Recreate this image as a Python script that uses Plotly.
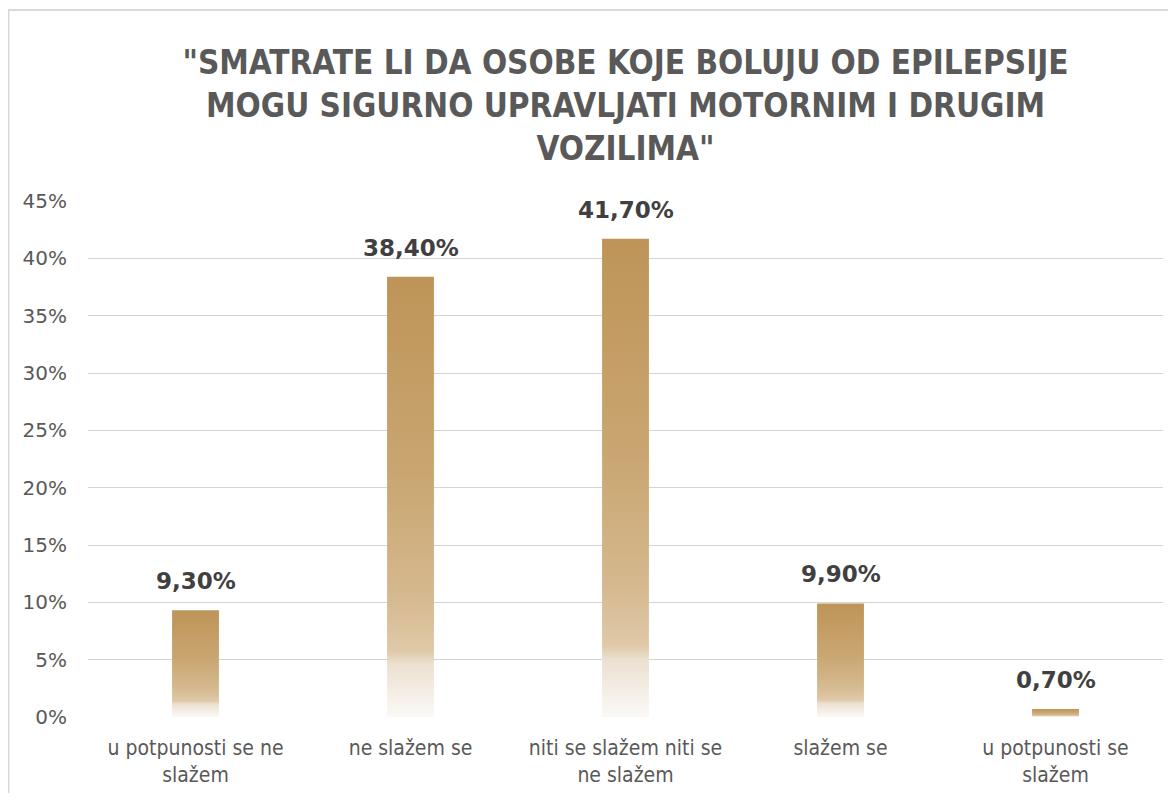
import plotly.graph_objects as go

# ---- data ----
categories = [
    "u potpunosti se ne<br>slažem",
    "ne slažem se",
    "niti se slažem niti se<br>ne slažem",
    "slažem se",
    "u potpunosti se<br>slažem",
]
values = [9.3, 38.4, 41.7, 9.9, 0.7]  # percent
y_ticks = [0, 5, 10, 15, 20, 25, 30, 35, 40, 45]
y_tick_labels = [f"{t}%" for t in y_ticks]

title_text = ('"SMATRATE LI DA OSOBE KOJE BOLUJU OD EPILEPSIJE<br>'
              'MOGU SIGURNO UPRAVLJATI MOTORNIM I DRUGIM<br>'
              'VOZILIMA"')

# ---- style / geometry ----
W, H = 1160, 785
ML, MR, MT, MB = 80, 5, 193, 76
PW, PH = W - ML - MR, H - MT - MB
half_w = 0.109
grad = [
    [0.0, "#fbf9f6"],
    [0.05, "#f5efe7"],
    [0.12, "#ece0d0"],
    [0.15, "#dfc9a8"],
    [0.28, "#d5b88e"],
    [0.55, "#c9a671"],
    [1.0, "#be9458"],
]
COND = "DejaVu Sans Condensed, DejaVu Sans, sans-serif"

fig = go.Figure()

for i, v in enumerate(values):
    fig.add_trace(go.Scatter(
        x=[i - half_w, i - half_w, i + half_w, i + half_w, i - half_w],
        y=[0, v, v, 0, 0],
        mode="lines",
        line=dict(width=0),
        fill="toself",
        fillgradient=dict(type="vertical", colorscale=grad, start=0, stop=v),
        hoverinfo="skip",
        showlegend=False,
    ))
    fig.add_annotation(
        x=i, y=v, xref="x", yref="y",
        text=f"{v:.2f}".replace(".", ",") + "%",
        showarrow=False, yanchor="middle", yshift=29,
        font=dict(family="DejaVu Sans", size=23, color="#404040", weight="bold"),
    )

# chart border
fig.add_shape(type="rect", xref="paper", yref="paper",
              x0=(0.5 - ML) / PW, x1=(W - ML) / PW + 0.05,
              y0=-0.3, y1=(PH + MT - 2) / PH,
              line=dict(color="#d9d9d9", width=2), fillcolor="rgba(0,0,0,0)",
              layer="below")

fig.update_layout(
    width=W, height=H,
    margin=dict(l=ML, r=MR, t=MT, b=MB),
    paper_bgcolor="white", plot_bgcolor="white",
    title=dict(
        text=title_text, x=0.5, xref="paper", xanchor="center",
        y=1 - 66 / H, yref="container", yanchor="middle",
        font=dict(family=COND, size=33, color="#595959", weight="bold"),
    ),
    showlegend=False,
)

fig.update_xaxes(
    range=[-0.5, len(categories) - 0.5],
    tickvals=list(range(len(categories))), ticktext=categories,
    showgrid=False, zeroline=False, showline=False, ticks="",
    ticklabelstandoff=16,
    tickfont=dict(family=COND, size=21, color="#595959"),
)
fig.update_yaxes(
    range=[0, 45], tickvals=y_ticks, ticktext=y_tick_labels,
    showgrid=True, gridcolor="#d4d4d4", gridwidth=1,
    zeroline=False, showline=False, ticks="",
    ticklabelstandoff=20,
    tickfont=dict(family="DejaVu Sans", size=20, color="#595959"),
)

fig.write_html("out.html")
